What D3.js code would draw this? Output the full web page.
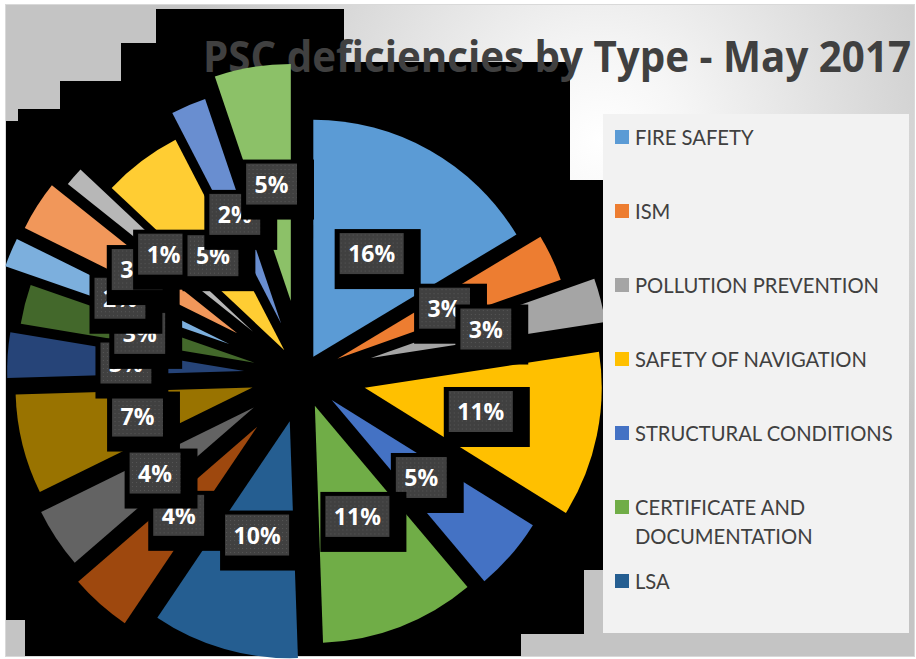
<!DOCTYPE html>
<html>
<head>
<meta charset="utf-8">
<script src="https://cdn.jsdelivr.net/npm/d3@7/dist/d3.min.js"></script>
<style>
  body { margin: 0; background: #fff; }
  svg { display: block; }
</style>
</head>
<body>
<div id="chart"></div>
<script>
/**
 * DATA
 * */
const categories = [
  "FIRE SAFETY", "ISM", "POLLUTION PREVENTION", "SAFETY OF NAVIGATION",
  "STRUCTURAL CONDITIONS", "CERTIFICATE AND DOCUMENTATION", "LSA",
  "WORKING AND LIVING CONDITIONS", "PROPULSION AND AUXILIARY MACHINERY",
  "RADIO COMMUNICATION", "EMERGENCY SYSTEMS", "ALARMS",
  "WATER/WEATHERTIGHT CONDITIONS", "ISPS", "MLC 2006",
  "CARGO OPERATIONS", "LABOUR CONDITIONS", "OTHER"
];
// deficiency counts
const counts = [164, 32, 30, 113, 50, 106, 100, 42, 41, 68, 31, 27, 20, 34, 13, 54, 24, 52];
// legend only shows the first 7 entries (rest is cut off)
const legendNames = [
  "FIRE SAFETY", "ISM", "POLLUTION PREVENTION", "SAFETY OF NAVIGATION",
  "STRUCTURAL CONDITIONS", ["CERTIFICATE AND", "DOCUMENTATION"], "LSA"
];

/**
 * STYLE
 * */
const colors = [
  "#5B9BD5", "#ED7D31", "#A5A5A5", "#FFC000", "#4472C4", "#70AD47",
  "#255E91", "#9E480E", "#636363", "#997300", "#264478", "#43682B",
  "#7CAFDD", "#F1975A", "#B7B7B7", "#FFCD33", "#698ED0", "#8CC168"
];
// per point explosion in px (excel exploded every point a different amount)
const explode = [21, 38, 70, 63, 38, 33, 48, 69, 59, 52, 59, 50, 80, 78, 66, 31, 56, 75];

const width = 916, height = 659;
const cx = 303, cy = 375, radius = 237;

const svg = d3.select("#chart").append("svg")
  .attr("width", width)
  .attr("height", height);

const defs = svg.append("defs");

const grad = defs.append("radialGradient")
  .attr("id", "bg")
  .attr("gradientUnits", "userSpaceOnUse")
  .attr("cx", 600).attr("cy", 140).attr("r", 420);
grad.append("stop").attr("offset", 0).attr("stop-color", "#ffffff");
grad.append("stop").attr("offset", 0.2).attr("stop-color", "#f6f6f6");
grad.append("stop").attr("offset", 1).attr("stop-color", "#c4c4c4");

const dots = defs.append("pattern")
  .attr("id", "dots")
  .attr("width", 4).attr("height", 4)
  .attr("patternUnits", "userSpaceOnUse");
dots.append("rect").attr("width", 4).attr("height", 4).attr("fill", "#404040");
dots.append("rect").attr("x", 1).attr("y", 1).attr("width", 1).attr("height", 1).attr("fill", "#575757");

// chart area
svg.append("rect")
  .attr("x", 5.5).attr("y", 4.5)
  .attr("width", 909).attr("height", 652)
  .attr("fill", "url(#bg)")
  .attr("stroke", "#d9d9d9");

// the broken black backdrop behind the plot
const backdrop = [
  [156, 9], [344, 9], [344, 62], [570, 62], [570, 180], [603, 180],
  [603, 570], [584, 570], [584, 634], [521, 634], [521, 656], [25, 656],
  [25, 620], [6, 620], [6, 121], [18, 121], [18, 109], [60, 109],
  [60, 81], [121, 81], [121, 43], [156, 43]
];
svg.append("path")
  .attr("d", d3.line()(backdrop) + "Z")
  .attr("fill", "#000");

// title
svg.append("text")
  .attr("x", 203).attr("y", 72)
  .attr("textLength", 708)
  .attr("lengthAdjust", "spacingAndGlyphs")
  .attr("font-family", "'Open Sans', sans-serif")
  .attr("font-weight", "bold")
  .attr("font-size", 43)
  .attr("fill", "#404040")
  .text("PSC deficiencies by Type - May 2017");

/**
 * PIE
 * */
const total = d3.sum(counts);
const pie = d3.pie().sort(null).value(d => d);
const arcs = pie(counts);
const arc = d3.arc().innerRadius(0).outerRadius(radius);

function offset(d, i) {
  const mid = (d.startAngle + d.endAngle) / 2;
  return [explode[i] * Math.sin(mid), -explode[i] * Math.cos(mid)];
}

const g = svg.append("g").attr("transform", `translate(${cx},${cy})`);

g.selectAll("path.slice")
  .data(arcs)
  .join("path")
  .attr("class", "slice")
  .attr("d", arc)
  .attr("fill", (d, i) => colors[i])
  .attr("transform", (d, i) => `translate(${offset(d, i)})`);

// data labels: box with black shadow, drawn one after the other
const boxH = 41;
arcs.forEach((d, i) => {
  const [ox, oy] = offset(d, i);
  const [mx, my] = arc.centroid(d);
  const x = mx + ox, y = my + oy;
  const label = Math.round(d.data / total * 100) + "%";

  const lg = g.append("g").attr("transform", `translate(${x},${y})`);
  const shadow = lg.append("rect").attr("fill", "#000");
  const box = lg.append("rect").attr("fill", "url(#dots)");
  const t = lg.append("text")
    .attr("text-anchor", "middle")
    .attr("y", 8.5)
    .attr("font-family", "'Open Sans', sans-serif")
    .attr("font-weight", "bold")
    .attr("font-size", 23)
    .attr("fill", "#fff")
    .text(label);
  const w = t.node().getComputedTextLength() + 17;
  box.attr("x", -w / 2).attr("y", -boxH / 2).attr("width", w).attr("height", boxH);
  shadow.attr("x", -w / 2 - 5).attr("y", -boxH / 2 - 4)
    .attr("width", w + 22).attr("height", boxH + 19);
});

/**
 * LEGEND
 * */
svg.append("rect")
  .attr("x", 603).attr("y", 114)
  .attr("width", 306).attr("height", 519)
  .attr("fill", "#f2f2f2");

const ly = d3.scaleLinear().domain([0, 1]).range([137, 211]);

const items = svg.append("g")
  .selectAll("g")
  .data(legendNames)
  .join("g")
  .attr("transform", (d, i) => `translate(615,${ly(i)})`);

items.append("rect")
  .attr("y", -7).attr("width", 14).attr("height", 14)
  .attr("fill", (d, i) => colors[i]);

items.append("text")
  .attr("x", 20)
  .attr("font-family", "Lato, sans-serif")
  .attr("font-size", 20.2)
  .attr("fill", "#404040")
  .selectAll("tspan")
  .data(d => Array.isArray(d) ? d : [d])
  .join("tspan")
  .attr("x", 20)
  .attr("y", (d, j) => 7.5 + j * 29)
  .text(d => d);
</script>
</body>
</html>
